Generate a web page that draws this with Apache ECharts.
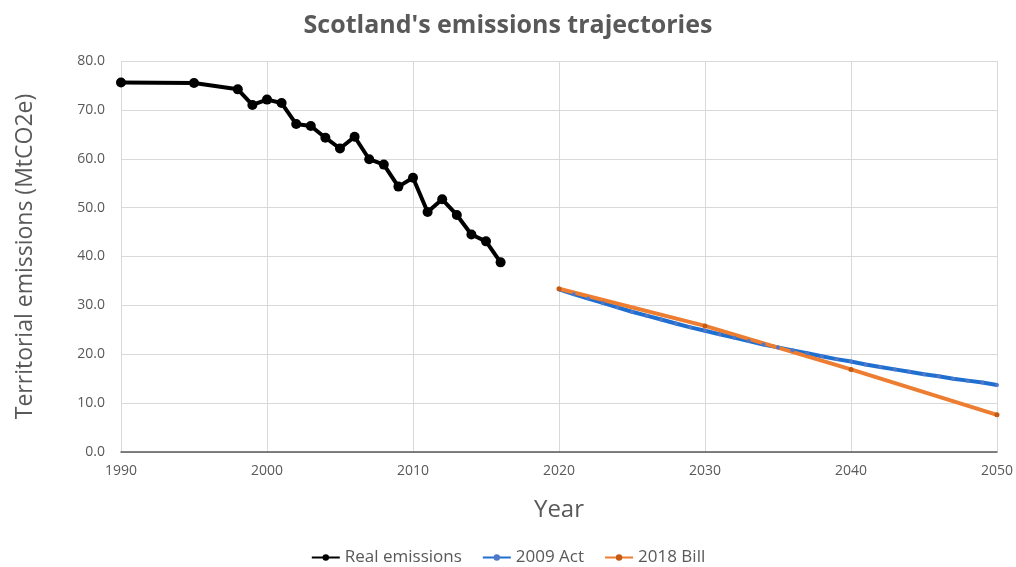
<!DOCTYPE html>
<html><head><meta charset="utf-8">
<script src="https://cdn.jsdelivr.net/npm/echarts@6/dist/echarts.min.js"></script>
<style>html,body{margin:0;padding:0;background:#fff}#c{width:1016px;height:567px}</style>
</head><body><div id="c"></div>
<script>
const realYears = [1990,1995,1998,1999,2000,2001,2002,2003,2004,2005,2006,2007,2008,2009,2010,2011,2012,2013,2014,2015,2016];
const realValues = [75.6,75.5,74.2,71.0,72.1,71.4,67.1,66.7,64.3,62.1,64.5,59.9,58.8,54.3,56.1,49.1,51.7,48.5,44.5,43.1,38.8];
const actYears = [2020,2021,2022,2023,2024,2025,2026,2027,2028,2029,2030,2031,2032,2033,2034,2035,2036,2037,2038,2039,2040,2041,2042,2043,2044,2045,2046,2047,2048,2049,2050];
const actValues = [33.3,32.3,31.4,30.5,29.6,28.7,27.9,27.1,26.3,25.5,24.8,24.1,23.4,22.7,22.0,21.4,20.8,20.2,19.6,19.0,18.5,17.9,17.4,16.9,16.4,15.9,15.5,15.0,14.6,14.2,13.7];
const billYears = [2020,2030,2040,2050];
const billValues = [33.4,25.8,16.9,7.6];
const seriesNames = ['Real emissions','2009 Act','2018 Bill'];

const zip = (a,b) => a.map((x,i)=>[x,b[i]]);
const font = "'Open Sans', 'Liberation Sans', sans-serif";
const chart = echarts.init(document.getElementById('c'));
chart.setOption({
  animation:false,
  title:{text:"Scotland's emissions trajectories",left:'center',top:8,
    textStyle:{fontFamily:font,fontSize:25,fontWeight:'bold',color:'#595959'}},
  grid:{left:121,right:19,top:61,bottom:115},
  legend:{bottom:-4,left:'center',itemGap:20,itemWidth:28,itemHeight:8,
    textStyle:{fontFamily:font,fontSize:17,color:'#595959'},
    data:seriesNames},
  xAxis:{type:'value',min:1990,max:2050,interval:10,
    name:'Year',nameLocation:'middle',nameGap:46,
    nameTextStyle:{fontFamily:font,fontSize:24,color:'#595959'},
    axisLine:{show:true,lineStyle:{color:'#595959',width:1.5}},
    axisTick:{show:false},
    axisLabel:{fontFamily:font,fontSize:14,color:'#595959',margin:12,formatter:v=>String(v)},
    splitLine:{show:true,lineStyle:{color:'#d9d9d9'}}},
  yAxis:{type:'value',min:0,max:80,interval:10,
    name:'Territorial emissions (MtCO2e)',nameLocation:'middle',nameGap:84,
    nameTextStyle:{fontFamily:font,fontSize:23,color:'#595959'},
    axisLine:{show:false},axisTick:{show:false},
    axisLabel:{fontFamily:font,fontSize:14,color:'#595959',margin:16,formatter:v=>v.toFixed(1)},
    splitLine:{show:true,lineStyle:{color:'#d9d9d9'}}},
  series:[
    {name:seriesNames[0],type:'line',data:zip(realYears,realValues),
      symbol:'circle',symbolSize:10,lineStyle:{color:'#000',width:4},itemStyle:{color:'#000'}},
    {name:seriesNames[1],type:'line',data:zip(actYears,actValues),
      symbol:'circle',symbolSize:4,lineStyle:{color:'#1f6fd1',width:4},itemStyle:{color:'#4f78c8'}},
    {name:seriesNames[2],type:'line',data:zip(billYears,billValues),
      symbol:'circle',symbolSize:5,lineStyle:{color:'#ed7d31',width:4},itemStyle:{color:'#c55a11'}}
  ]
});
</script></body></html>
